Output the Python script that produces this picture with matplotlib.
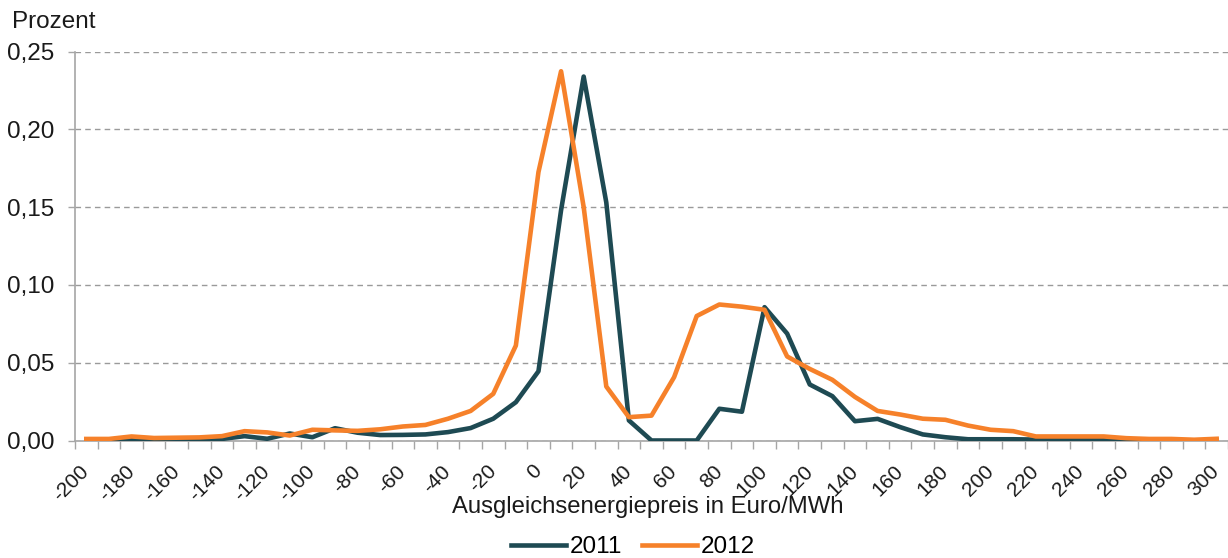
import numpy as np
import matplotlib
matplotlib.use("Agg")
import matplotlib.pyplot as plt
from matplotlib.ticker import FixedLocator, FuncFormatter

plt.rcParams['font.family'] = ['Liberation Sans', 'DejaVu Sans']
plt.rcParams['axes.unicode_minus'] = False

# Preisklassen in Euro/MWh (Schrittweite 10)
preise = list(range(-200, 301, 10))

anteil_2011 = [
    0.0005, 0.0005, 0.0008, 0.0008, 0.0008, 0.0008, 0.0010, 0.0028, 0.0011, 0.0045,   # -200 .. -110
    0.0021, 0.0079, 0.0050, 0.0035, 0.0036, 0.0039, 0.0054, 0.0080, 0.0140, 0.0246,   # -100 .. -10
    0.0445, 0.1480, 0.2339, 0.1530, 0.0129, 0.0000, 0.0000, 0.0000, 0.0204, 0.0185,   # 0 .. 90
    0.0857, 0.0687, 0.0360, 0.0285, 0.0124, 0.0139, 0.0086, 0.0039, 0.0021, 0.0008,   # 100 .. 190
    0.0008, 0.0008, 0.0006, 0.0005, 0.0005, 0.0004, 0.0002, 0.0000, 0.0000, 0.0000,   # 200 .. 290
    0.0000,                                                                            # 300
]

anteil_2012 = [
    0.0010, 0.0010, 0.0026, 0.0016, 0.0018, 0.0020, 0.0028, 0.0060, 0.0052, 0.0032,   # -200 .. -110
    0.0069, 0.0065, 0.0062, 0.0072, 0.0090, 0.0100, 0.0140, 0.0190, 0.0300, 0.0610,   # -100 .. -10
    0.1725, 0.2373, 0.1500, 0.0347, 0.0150, 0.0160, 0.0407, 0.0800, 0.0874, 0.0860,   # 0 .. 90
    0.0840, 0.0540, 0.0460, 0.0390, 0.0280, 0.0190, 0.0167, 0.0140, 0.0133, 0.0096,   # 100 .. 190
    0.0069, 0.0060, 0.0026, 0.0026, 0.0026, 0.0026, 0.0015, 0.0010, 0.0010, 0.0005,   # 200 .. 290
    0.0011,                                                                            # 300
]

farbe_2011 = "#1E4A53"
farbe_2012 = "#F6812A"
grau = "#A6A6A6"
fs = 17.5

W, H = 1228, 558
fig = plt.figure(figsize=(W / 100, H / 100), dpi=100)
ax = fig.add_axes([75 / W, 1 - 440.5 / H, (1228 - 75) / W, (440.5 - 51.5) / H])

ax.plot(preise, anteil_2011, color=farbe_2011, lw=3.3, label="2011", solid_joinstyle="round", zorder=3)
ax.plot(preise, anteil_2012, color=farbe_2012, lw=3.3, label="2012", solid_joinstyle="round", zorder=4)

ax.set_xlim(-205, 305)
ax.set_ylim(0, 0.25)

# y-Achse
ax.set_yticks(np.arange(0, 0.2501, 0.05))
ax.yaxis.set_major_formatter(FuncFormatter(lambda v, p: f"{v:.2f}".replace(".", ",")))
ax.tick_params(axis="y", length=5, width=1, color=grau, pad=10, labelsize=fs, labelcolor="#1a1a1a")
ax.grid(axis="y", color="#9A9A9A", linestyle=(0, (4, 3)), linewidth=1.0)
ax.set_axisbelow(True)

# x-Achse: Kategorien, Beschriftung jede zweite
ax.xaxis.set_major_locator(FixedLocator(list(range(-200, 301, 20))))
ax.xaxis.set_minor_locator(FixedLocator(list(np.arange(-205, 306, 10))))
ax.tick_params(axis="x", which="major", length=0, pad=20, labelsize=15, labelcolor="#1a1a1a")
ax.tick_params(axis="x", which="minor", length=6, width=1, color=grau)
for lab in ax.get_xticklabels():
    lab.set_rotation(45)
    lab.set_rotation_mode("anchor")
    lab.set_ha("right")
    lab.set_va("center")

for s in ["top", "right"]:
    ax.spines[s].set_visible(False)
for s in ["left", "bottom"]:
    ax.spines[s].set_color(grau)
    ax.spines[s].set_linewidth(1.2)

fig.text(12 / W, 1 - 22 / H, "Prozent", fontsize=fs, ha="left", va="center", color="#1a1a1a")
fig.text(648 / W, 1 - 513 / H, "Ausgleichsenergiepreis in Euro/MWh", fontsize=17.2,
         ha="center", va="baseline", color="#1a1a1a")

fig.legend(loc="center", bbox_to_anchor=(633 / W, 1 - 547 / H), ncol=2, frameon=False,
           fontsize=fs, handlelength=2.25, handletextpad=0.15, columnspacing=0.85)

fig.savefig("out.png", dpi=100)
